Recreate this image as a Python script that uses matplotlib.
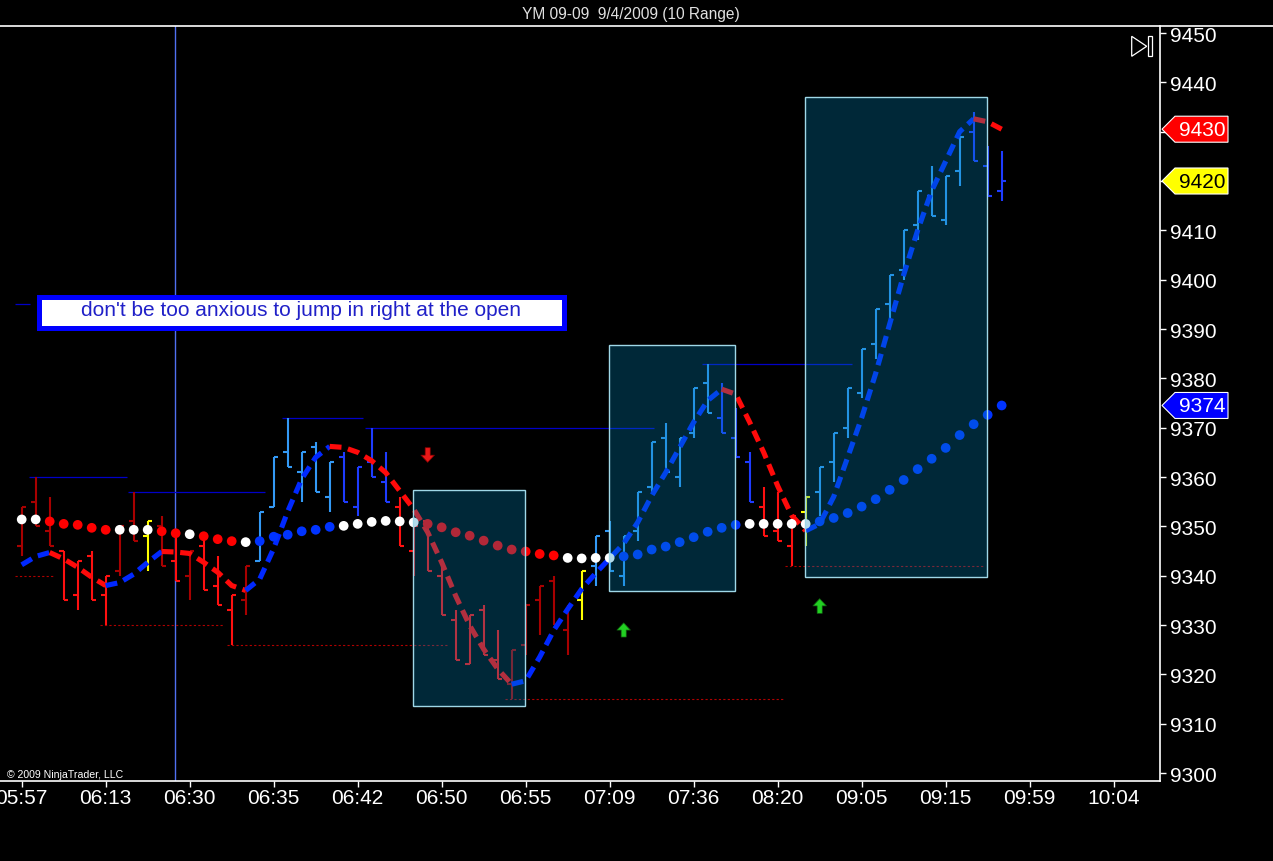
import matplotlib
matplotlib.use("Agg")
import matplotlib.pyplot as plt
from matplotlib.patches import Rectangle, Polygon
from matplotlib.lines import Line2D

plt.rcParams['font.family'] = ['Liberation Sans', 'DejaVu Sans']

# ---------------- data ----------------
bar_low = [9344, 9350, 9346, 9335, 9333, 9335, 9330, 9340, 9347, 9341,
           9342, 9339, 9335, 9337, 9334, 9326, 9332, 9343, 9354, 9362,
           9355, 9357, 9353, 9355, 9352, 9360, 9355, 9346, 9340, 9341,
           9332, 9323, 9322, 9324, 9319, 9315, 9324, 9328, 9330, 9324,
           9331, 9338, 9341, 9338, 9347, 9357, 9361, 9358, 9368, 9373,
           9369, 9364, 9355, 9348, 9347, 9342, 9346, 9352, 9359, 9368,
           9376, 9384, 9391, 9400, 9408, 9413, 9411, 9419, 9424, 9417,
           9416]
bar_high = [9354, 9360, 9356, 9345, 9343, 9345, 9340, 9350, 9357, 9351,
            9352, 9349, 9345, 9347, 9344, 9336, 9342, 9353, 9364, 9372,
            9365, 9367, 9363, 9365, 9362, 9370, 9365, 9356, 9350, 9351,
            9342, 9333, 9332, 9334, 9329, 9325, 9334, 9338, 9340, 9334,
            9341, 9348, 9351, 9348, 9357, 9367, 9371, 9368, 9378, 9383,
            9379, 9374, 9365, 9358, 9357, 9352, 9356, 9362, 9369, 9378,
            9386, 9394, 9401, 9410, 9418, 9423, 9421, 9429, 9434, 9427,
            9426]
bar_open = [9346, 9355, 9349, 9345, 9336, 9344, 9336, 9341, 9351, 9348,
            9350, 9343, 9340, 9346, 9338, 9333, 9335, 9343, 9354, 9365,
            9361, 9366, 9356, 9364, 9354, 9363, 9359, 9354, 9345, 9351,
            9340, 9331, 9322, 9333, 9323, 9318, 9326, 9335, 9339, 9329,
            9335, 9342, 9349, 9340, 9349, 9358, 9368, 9360, 9369, 9379,
            9372, 9368, 9363, 9354, 9349, 9346, 9353, 9357, 9363, 9370,
            9377, 9387, 9395, 9402, 9411, 9417, 9412, 9422, 9430, 9423,
            9418]
bar_close = [9354, 9350, 9346, 9335, 9343, 9335, 9340, 9350, 9347, 9351,
             9342, 9339, 9345, 9337, 9334, 9336, 9342, 9353, 9364, 9362,
             9365, 9357, 9363, 9355, 9362, 9360, 9355, 9346, 9350, 9341,
             9332, 9323, 9332, 9324, 9319, 9325, 9334, 9338, 9330, 9334,
             9341, 9348, 9341, 9348, 9357, 9367, 9361, 9368, 9378, 9373,
             9369, 9364, 9355, 9348, 9347, 9352, 9356, 9362, 9369, 9378,
             9386, 9394, 9401, 9410, 9418, 9413, 9421, 9429, 9424, 9417,
             9420]
# bar colour class: DR dark red, R red, Y yellow, LB light blue, B blue
bar_kind = (['DR', 'DR', 'DR', 'R', 'R', 'R', 'R', 'DR', 'DR', 'Y',
             'DR', 'R', 'DR', 'R', 'R', 'R', 'DR', 'LB', 'LB', 'LB',
             'LB', 'LB', 'LB', 'B', 'B', 'B', 'B', 'R', 'R', 'R',
             'R', 'R', 'R', 'R', 'R', 'DR', 'DR', 'DR', 'DR', 'DR',
             'Y'] + ['LB'] * 9 + ['B', 'B', 'B', 'R', 'R', 'R', 'Y']
            + ['LB'] * 11 + ['B', 'B', 'B'])

# fast smoothed average (dashed) and its direction per bar
fast_ma = [9342.2, 9343.9, 9344.7, 9343.4, 9341.7, 9339.7, 9338.0, 9338.6, 9340.3, 9342.7,
           9344.9, 9344.8, 9344.5, 9342.7, 9340.7, 9338.0, 9337.0, 9339.3, 9345.5, 9353.0,
           9359.6, 9364.0, 9366.2, 9366.0, 9365.0, 9363.3, 9360.9, 9357.2, 9353.5, 9348.8,
           9342.7, 9335.9, 9329.9, 9325.1, 9321.1, 9318.0, 9318.7, 9323.5, 9328.9, 9333.2,
           9337.3, 9340.5, 9343.5, 9346.5, 9350.8, 9356.2, 9360.9, 9366.0, 9371.1, 9375.5,
           9377.8, 9376.8, 9371.1, 9365.0, 9358.2, 9352.2, 9349.1, 9350.5, 9356.0, 9364.0,
           9372.0, 9381.0, 9391.0, 9401.0, 9410.0, 9418.0, 9424.0, 9430.0, 9432.6, 9432.0,
           9430.5]
fast_dir = (['up'] * 3 + ['dn'] * 4 + ['up'] * 4 + ['dn'] * 6 + ['up'] * 6
            + ['dn'] * 13 + ['up'] * 15 + ['dn'] * 6 + ['up'] * 12 + ['dn'] * 2)

# slow average (dots) and state per bar: W flat, R falling, B rising
slow_ma = [9351.4, 9351.4, 9351.0, 9350.5, 9350.3, 9349.7, 9349.3, 9349.3, 9349.3, 9349.3,
           9349.0, 9348.6, 9348.4, 9348.0, 9347.4, 9347.0, 9346.8, 9347.0, 9347.9, 9348.3,
           9349.0, 9349.3, 9349.9, 9350.1, 9350.5, 9350.9, 9351.1, 9351.0, 9350.8, 9350.5,
           9349.8, 9348.8, 9348.1, 9347.1, 9346.1, 9345.3, 9344.9, 9344.4, 9344.1, 9343.6,
           9343.5, 9343.6, 9343.6, 9343.9, 9344.3, 9345.3, 9345.9, 9346.8, 9347.8, 9348.9,
           9349.7, 9350.3, 9350.5, 9350.5, 9350.5, 9350.5, 9350.5, 9351.0, 9351.7, 9352.7,
           9354.0, 9355.5, 9357.4, 9359.4, 9361.6, 9363.7, 9365.9, 9368.5, 9370.7, 9372.6,
           9374.5]
slow_state = (['W', 'W'] + ['R'] * 5 + ['W'] * 3 + ['R', 'R', 'W', 'R', 'R', 'R', 'W']
              + ['B'] * 6 + ['W'] * 6 + ['R'] * 10 + ['W'] * 4 + ['B'] * 9
              + ['W'] * 5 + ['B'] * 14)

time_labels = ['05:57', '06:13', '06:30', '06:35', '06:42', '06:50', '06:55',
               '07:09', '07:36', '08:20', '09:05', '09:15', '09:59', '10:04']
time_label_bars = [0, 6, 12, 18, 24, 30, 36, 42, 48, 54, 60, 66, 72, 78]
price_ticks = list(range(9300, 9451, 10))

# swing lines: (start bar, end bar, price)
swing_high_lines = [(0.5, 7.5, 9360), (7.6, 17.4, 9357), (18.6, 24.4, 9372),
                    (24.5, 45.2, 9370), (48.6, 59.3, 9383), (-0.5, 0.6, 9395)]
swing_low_lines = [(-0.5, 2.4, 9340), (5.6, 14.4, 9330), (14.7, 30.4, 9326),
                   (34.5, 54.5, 9315), (54.5, 68.8, 9342)]

# highlighted zones: (start bar, end bar, low price, high price)
zones = [(27.95, 35.95, 9313.6, 9357.4),
         (41.95, 50.95, 9336.9, 9386.8),
         (55.95, 68.95, 9339.7, 9437.0)]

# signal arrows: (bar, tail price, tip price)
sell_signals = [(29, 9366.5, 9362.4)]
buy_signals = [(43, 9327.0, 9331.0), (57, 9331.8, 9335.9)]

session_start_bar = 10.95
note_text = "don't be too anxious to jump in right at the open"
title_text = "YM 09-09  9/4/2009 (10 Range)"

# ---------------- styling ----------------
BAR_COL = {'DR': '#A80000', 'R': '#FF1010', 'Y': '#FFFF00', 'LB': '#3399F5', 'B': '#1E3CFF'}
DOT_COL = {'W': '#FFFFFF', 'R': '#FF0000', 'B': '#0033FF'}
DIR_COL = {'up': '#0028FF', 'dn': '#FF0A0A'}

W_PX, H_PX = 1273, 862
AX_L, AX_R, AX_T, AX_B = 0, 1160, 27, 782
fig = plt.figure(figsize=(W_PX / 100, H_PX / 100), dpi=100, facecolor='black')
ax = fig.add_axes([AX_L / W_PX, (H_PX - AX_B) / H_PX,
                   (AX_R - AX_L) / W_PX, (AX_B - AX_T) / H_PX])
ax.set_facecolor('black')
ax.set_xlim(-1.55, 81.31)
ax.set_ylim(9298.38, 9451.42)


def axfrac(px, py):
    return px / (AX_R - AX_L), (AX_B - py) / (AX_B - AX_T)


# session vertical line
ax.axvline(session_start_bar, color='#5070F0', lw=1.0, zorder=1)

# swing lines
for x0, x1, p in swing_high_lines:
    ax.hlines(p, x0, x1, colors='#0000C8', lw=0.9, zorder=1.5)
for x0, x1, p in swing_low_lines:
    ax.hlines(p, x0, x1, colors='#B00000', lw=0.8, linestyles=(0, (2, 2)), zorder=1.5)

# OHLC bars
tick = 0.3
for i in range(len(bar_low)):
    c = BAR_COL[bar_kind[i]]
    ax.vlines(i, bar_low[i], bar_high[i], colors=c, lw=1.5, zorder=2)
    ax.hlines(bar_open[i], i - tick, i, colors=c, lw=1.5, zorder=2)
    ax.hlines(bar_close[i], i, i + tick, colors=c, lw=1.5, zorder=2)

# dashed fast average, coloured by direction (runs)
n = len(fast_ma)
k = 0
while k < n - 1:
    col = fast_dir[k + 1]
    j = k + 1
    while j < n - 1 and fast_dir[j + 1] == col:
        j += 1
    ax.plot(range(k, j + 1), fast_ma[k:j + 1], color=DIR_COL[col], lw=3.7,
            linestyle=(0, (2.3, 1.3)), dash_capstyle='butt', zorder=3)
    k = j

# dotted slow average
ax.scatter(range(len(slow_ma)), slow_ma, s=7.0 ** 2,
           c=[DOT_COL[s] for s in slow_state], marker='o', linewidths=0, zorder=4)

# zones
for x0, x1, p0, p1 in zones:
    ax.add_patch(Rectangle((x0, p0), x1 - x0, p1 - p0, facecolor=(0.0, 0.53, 0.73, 0.30),
                           edgecolor='#9FD8E8', lw=1.0, zorder=6))

# signal arrows
arrow_style = 'simple,head_length=0.4,head_width=0.75,tail_width=0.28'
for b, tail, tip in sell_signals:
    ax.annotate('', xy=(b, tip), xytext=(b, tail),
                arrowprops=dict(arrowstyle=arrow_style, mutation_scale=13,
                                fc='#E81818', ec='#800000', lw=0.5), zorder=7)
for b, tail, tip in buy_signals:
    ax.annotate('', xy=(b, tip), xytext=(b, tail),
                arrowprops=dict(arrowstyle=arrow_style, mutation_scale=13,
                                fc='#22D022', ec='#106010', lw=0.5), zorder=7)

# note box
bx0, by0 = axfrac(38.5, 328.5)
bx1, by1 = axfrac(563.5, 297.5)
ax.add_patch(Rectangle((bx0, by0), bx1 - bx0, by1 - by0, transform=ax.transAxes,
                       facecolor='white', edgecolor='#0000FF', lw=3.6, zorder=8))
tx, ty = axfrac(301, 311)
ax.text(tx, ty, note_text, transform=ax.transAxes, ha='center', va='center',
        fontsize=15, color='#2020C8', zorder=9)

# copyright
cx, cy = axfrac(7, 775.5)
ax.text(cx, cy, '\u00a9 2009 NinjaTrader, LLC', transform=ax.transAxes, ha='left',
        va='center', fontsize=7.6, color='white', zorder=9)

# price tags on the right axis
tags = [(fast_ma[-1], '#FF0000', 'white'),
        (bar_close[-1], '#FFFF00', 'black'),
        (slow_ma[-1], '#0000FF', 'white')]
hidden_ticks = [p for p in price_ticks if any(abs(p - v) < 4.5 for v, _, _ in tags)]

# axes styling
for side in ['left', 'top']:
    ax.spines[side].set_visible(False)
for side in ['right', 'bottom']:
    ax.spines[side].set_color('white')
    ax.spines[side].set_linewidth(1.2)
ax.yaxis.tick_right()
ax.set_yticks(price_ticks)
ax.set_yticklabels(['' if p in hidden_ticks else str(p) for p in price_ticks])
ax.set_xticks(time_label_bars)
ax.set_xticklabels(time_labels)
ax.tick_params(axis='y', colors='white', length=4, width=1, labelsize=15, pad=3)
ax.tick_params(axis='x', colors='white', length=4, width=1, labelsize=15, pad=1)

yax = ax.get_yaxis_transform()
half = 13 / 4.933
axw = AX_R - AX_L
for v, fc, tc in tags:
    pts = [(1 + 2 / axw, v), (1 + 15 / axw, v + half), (1 + 68 / axw, v + half),
           (1 + 68 / axw, v - half), (1 + 15 / axw, v - half)]
    ax.add_patch(Polygon(pts, closed=True, transform=yax, facecolor=fc, edgecolor='white',
                         lw=0.8, clip_on=False, zorder=10))
    ax.text(1 + 42 / axw, v, str(int(v)), transform=yax, ha='center', va='center',
            fontsize=15, color=tc, clip_on=False, zorder=11)

# play/end icon
p1 = axfrac(1131.7, 37.3)
p2 = axfrac(1131.7, 57.3)
p3 = axfrac(1146.7, 47.3)
ax.add_patch(Polygon([p1, p2, p3], closed=True, transform=ax.transAxes, fill=False,
                     edgecolor='white', lw=0.9, zorder=10))
r0 = axfrac(1148.3, 57.3)
r1 = axfrac(1151.7, 37.3)
ax.add_patch(Rectangle(r0, r1[0] - r0[0], r1[1] - r0[1], transform=ax.transAxes, fill=False,
                       edgecolor='white', lw=0.9, zorder=10))

# top border and title
fig.add_artist(Line2D([0, 1], [(H_PX - AX_T) / H_PX] * 2, transform=fig.transFigure,
                      color='white', lw=1.2))
fig.text(630.8 / W_PX, 1 - 14 / H_PX, title_text, ha='center', va='center',
         fontsize=11.2, color='#E0E0E0')

fig.savefig('out.png', dpi=100, facecolor='black')
